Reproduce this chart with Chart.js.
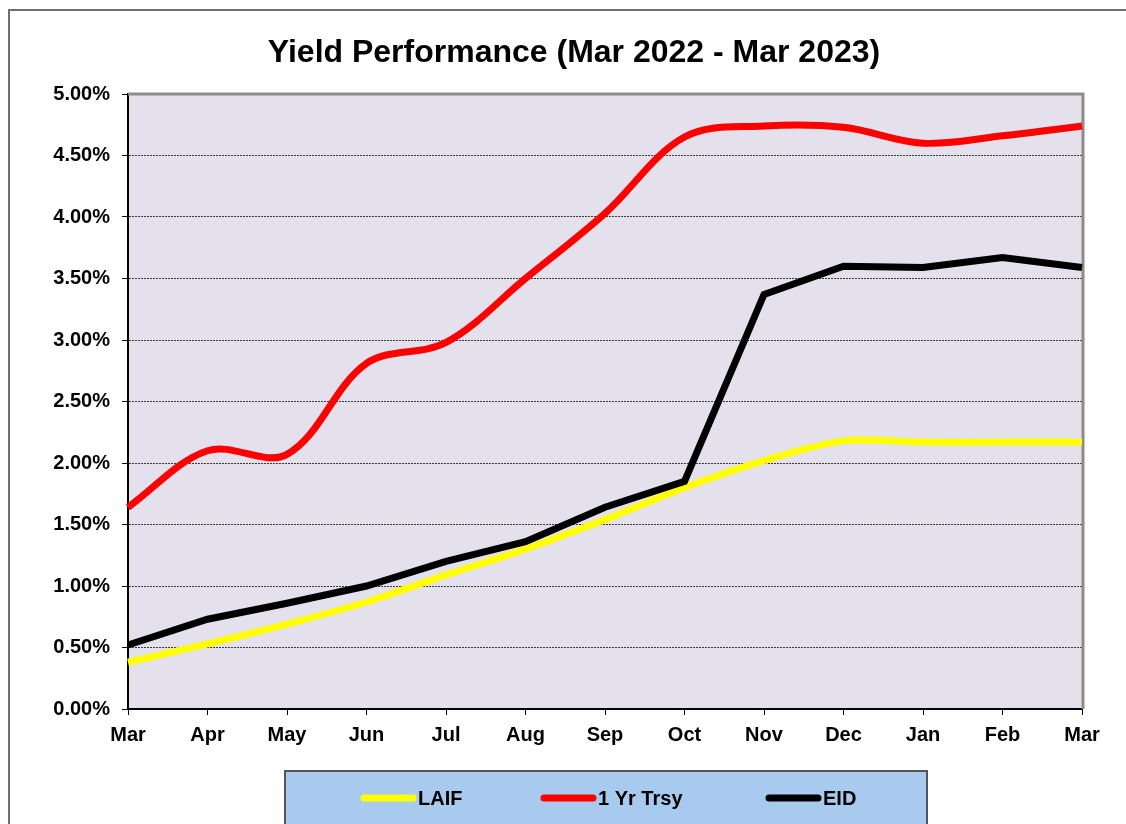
<!DOCTYPE html>
<html>
<head>
<meta charset="utf-8">
<title>Yield Performance</title>
<script src="https://cdn.jsdelivr.net/npm/chart.js@4"></script>
<style>
  html, body { margin: 0; padding: 0; background: #fff; }
  #wrap { width: 1126px; height: 824px; }
</style>
</head>
<body>
<div id="wrap"><canvas id="chart" width="1126" height="824"></canvas></div>
<script>
"use strict";
// --- data --------------------------------------------------------------------
const MONTHS = ["Mar", "Apr", "May", "Jun", "Jul", "Aug", "Sep", "Oct", "Nov", "Dec", "Jan", "Feb", "Mar"];
const LAIF = [0.38, 0.53, 0.69, 0.87, 1.09, 1.30, 1.54, 1.80, 2.02, 2.18, 2.17, 2.17, 2.17];
const TRSY = [1.64, 2.10, 2.07, 2.81, 2.98, 3.50, 4.03, 4.65, 4.74, 4.73, 4.60, 4.66, 4.74];
const EID = [0.52, 0.73, 0.86, 1.00, 1.20, 1.36, 1.64, 1.85, 3.37, 3.60, 3.59, 3.67, 3.59];
const TITLE = "Yield Performance (Mar 2022 - Mar 2023)";

const FONT = '"Liberation Sans", Arial, Helvetica, sans-serif';
const PLOT_BG = "#e4e0ec", LEGEND_BG = "#a8caee";

// --- frame, plot background, title, legend ----------------------------------
const decor = {
  id: "decor",
  beforeDraw(chart) {
    const { ctx, chartArea: a } = chart;
    ctx.save();
    ctx.strokeStyle = "#6e6e6e"; ctx.lineWidth = 2;
    ctx.strokeRect(9, 10, 1200, 900);
    ctx.fillStyle = PLOT_BG;
    ctx.fillRect(a.left, a.top, a.right - a.left, a.bottom - a.top);
    ctx.fillStyle = "#000";
    ctx.font = "bold 32px " + FONT;
    ctx.textAlign = "center"; ctx.textBaseline = "alphabetic";
    ctx.fillText(TITLE, 574, 62);
    ctx.restore();
  },
  beforeDatasetsDraw(chart) {
    const { ctx, chartArea: a } = chart;
    ctx.save();
    ctx.strokeStyle = "#8c8c8c";
    ctx.lineWidth = 3;
    ctx.beginPath();
    ctx.moveTo(a.left, a.top); ctx.lineTo(a.right + 1, a.top); ctx.lineTo(a.right + 1, a.bottom);
    ctx.stroke();
    ctx.restore();
  },
  afterDraw(chart) {
    const ctx = chart.ctx;
    ctx.save();
    ctx.fillStyle = LEGEND_BG;
    ctx.fillRect(285, 771, 642, 80);
    ctx.strokeStyle = "#555"; ctx.lineWidth = 2;
    ctx.strokeRect(285, 771, 642, 80);
    const xs = [361, 541, 766];
    ctx.font = "bold 20px " + FONT;
    ctx.textBaseline = "middle"; ctx.textAlign = "left";
    chart.data.datasets.forEach((ds, i) => {
      const x = xs[i], y = 798;
      ctx.strokeStyle = ds.borderColor; ctx.lineWidth = 7; ctx.lineCap = "round";
      ctx.beginPath(); ctx.moveTo(x + 3, y); ctx.lineTo(x + 52, y); ctx.stroke();
      ctx.fillStyle = "#000";
      ctx.fillText(ds.label, x + 57, y + 1);
    });
    ctx.restore();
  }
};

// --- chart -------------------------------------------------------------------
new Chart(document.getElementById("chart"), {
  type: "line",
  data: {
    labels: MONTHS,
    datasets: [
      { label: "LAIF", data: LAIF, borderColor: "#ffff00", borderWidth: 7, tension: 0.3, pointRadius: 0, order: 3 },
      { label: "1 Yr Trsy", data: TRSY, borderColor: "#ff0000", borderWidth: 7, tension: 0.35, pointRadius: 0, order: 2 },
      { label: "EID", data: EID, borderColor: "#000000", borderWidth: 7, tension: 0, pointRadius: 0, order: 1 }
    ]
  },
  options: {
    responsive: false,
    animation: false,
    layout: { padding: { left: 0, right: 44, top: 94, bottom: 0 } },
    plugins: { legend: { display: false }, title: { display: false }, tooltip: { enabled: false } },
    scales: {
      x: {
        offset: false,
        afterFit: (s) => { s.height = 115; },
        grid: { drawOnChartArea: false, drawTicks: true, tickLength: 6, tickColor: "#000", tickWidth: 1 },
        border: { color: "#000", width: 2 },
        ticks: { color: "#000", font: { family: FONT, size: 20, weight: "bold" }, padding: 8, maxRotation: 0, autoSkip: false }
      },
      y: {
        min: 0, max: 5,
        afterFit: (s) => { s.width = 128; },
        grid: {
          color: (c) => (c.tick && (c.tick.value === 0 || c.tick.value === 5)) ? "rgba(0,0,0,0)" : "#3a3a3a",
          lineWidth: 1, tickLength: 6, tickColor: "#000", tickBorderDash: []
        },
        border: { color: "#000", width: 2, dash: [2, 1] },
        ticks: {
          stepSize: 0.5, color: "#000", padding: 12,
          font: { family: FONT, size: 20, weight: "bold" },
          callback: (v) => v.toFixed(2) + "%"
        }
      }
    }
  },
  plugins: [decor]
});
</script>
</body>
</html>
